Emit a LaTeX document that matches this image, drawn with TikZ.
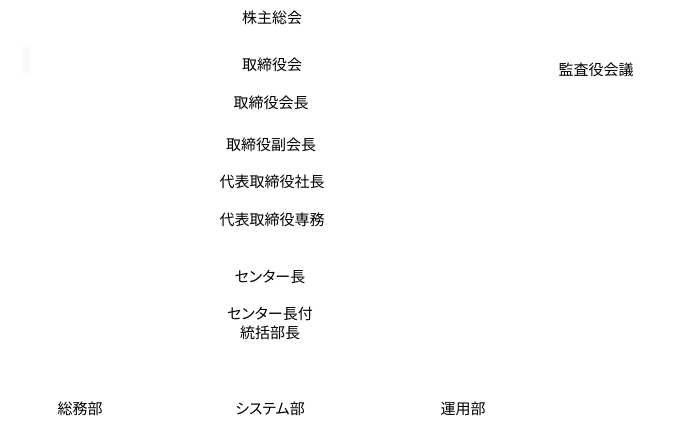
\documentclass[tikz,border=0pt]{standalone}
\usepackage{fontspec}
\usepackage{xcolor}
\usepackage{tikz}
\newfontfamily\jpfont{Noto Sans CJK JP}
\newfontfamily\jpkana[RawFeature=+palt]{Noto Sans CJK JP}
\definecolor{faintgray}{HTML}{FAFAFA}
\tikzset{post/.style={font=\jpfont\fontsize{15}{19}\selectfont, inner sep=0pt, align=center, text=black},
  kanapost/.style={post, font=\jpkana\fontsize{15}{19}\selectfont}}

\begin{document}
\begin{tikzpicture}[x=1pt,y=-1pt]
\useasboundingbox (0,0) rectangle (675,425);
\fill[faintgray] (22,47) rectangle (31,75);
\node[post] (GM) at (272,18) {株主総会};
\node[post] (BD) at (272,65) {取締役会};
\node[post] (CH) at (271,103) {取締役会長};
\node[post] (VC) at (271,145) {取締役副会長};
\node[post] (PR) at (272,182) {代表取締役社長};
\node[post] (MD) at (272,220) {代表取締役専務};
\node[kanapost] (CD) at (270,277) {センター長};
\node[kanapost] (GD) at (270,323.5) {センター長付\\統括部長};
\node[post] (GA) at (80,409) {総務部};
\node[kanapost] (SY) at (270,409) {システム部};
\node[post] (OP) at (463,409) {運用部};
\node[post] (AU) at (596,70) {監査役会議};
\end{tikzpicture}
\end{document}
